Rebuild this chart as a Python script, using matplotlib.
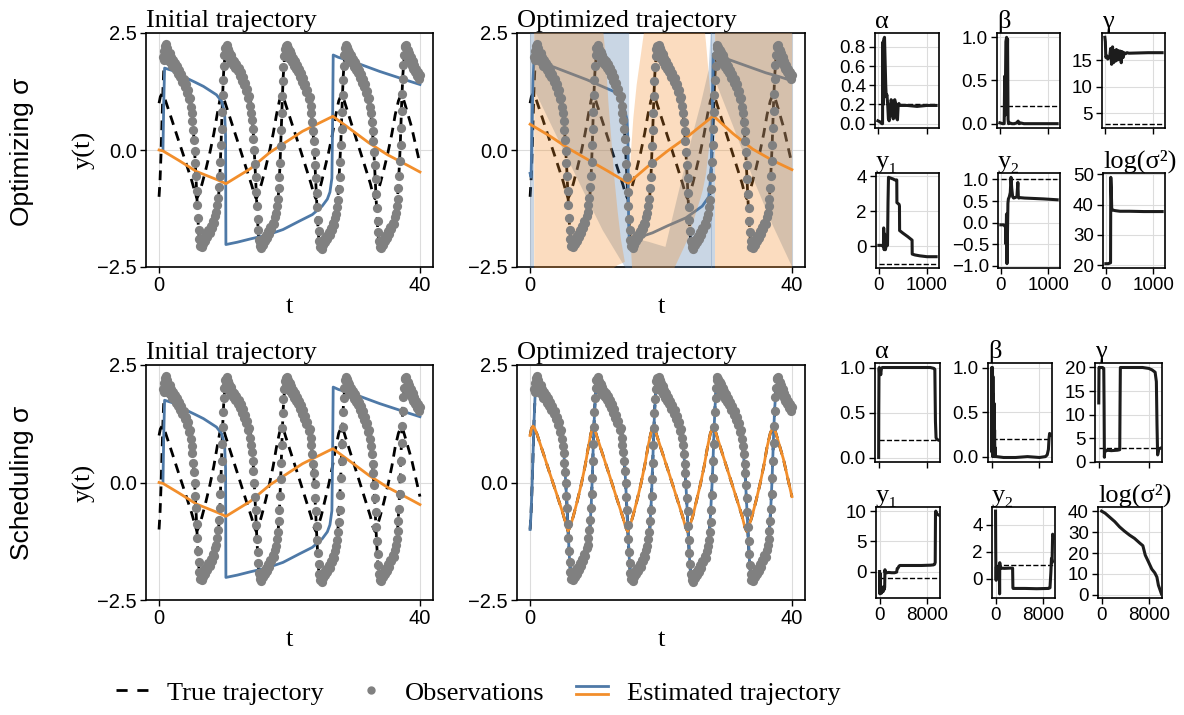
import matplotlib
matplotlib.use('Agg')
import matplotlib.pyplot as plt
from matplotlib.lines import Line2D
from matplotlib.legend_handler import HandlerBase

SANS = 'Liberation Sans'
SERIF = ['Liberation Serif', 'DejaVu Serif']
plt.rcParams['font.family'] = SANS
BLUE = '#4e79a7'
ORANGE = '#f28e2b'
GRAY = '#808080'
DASH = (3.5, 2.5)

# ---------------- trajectories ----------------
# true V (dashed, mostly hidden under the observations)
v_t = [0.0, 0.15, 0.3, 0.45, 0.6, 0.75, 0.9, 1.1, 1.6, 2.3, 3.0, 3.7, 4.3, 4.8, 5.1, 5.3, 5.45, 5.6, 5.75, 5.9, 6.05, 6.2, 6.4, 6.8, 7.4, 8.0, 8.5, 8.9, 9.15, 9.35, 9.5, 9.62, 9.75, 9.9, 10.1, 10.4,
       11.0, 11.7, 12.4, 13.1, 13.7, 14.1, 14.35, 14.55, 14.7, 14.85, 15.0, 15.15, 15.3, 15.5, 15.9, 16.5, 17.1, 17.6, 18.0, 18.3, 18.5, 18.65, 18.78, 18.9, 19.05, 19.25, 19.55,
       20.2, 20.9, 21.6, 22.3, 22.9, 23.3, 23.55, 23.75, 23.9, 24.05, 24.2, 24.35, 24.5, 24.7, 25.1, 25.7, 26.3, 26.8, 27.2, 27.45, 27.65, 27.85, 27.98, 28.1, 28.25, 28.45, 28.7,
       29.3, 30.0, 30.7, 31.4, 32.0, 32.4, 32.7, 32.9, 33.05, 33.2, 33.35, 33.5, 33.65, 33.85, 34.3, 34.9, 35.5, 36.0, 36.35, 36.6, 36.8, 36.98, 37.1, 37.22, 37.38, 37.58, 37.85,
       38.5, 39.2, 40.0]
v_y = [-1.0, -0.65, -0.1, 0.6, 1.3, 1.8, 2.05, 2.12, 2.0, 1.85, 1.68, 1.5, 1.3, 1.05, 0.72, 0.35, -0.02, -0.4, -0.85, -1.3, -1.7, -1.95, -2.02, -1.96, -1.83, -1.68, -1.52, -1.3, -0.95, -0.45, 0.1, 0.65, 1.18, 1.65, 2.0, 2.12,
       2.0, 1.85, 1.68, 1.5, 1.28, 0.98, 0.6, 0.12, -0.3, -0.75, -1.2, -1.6, -1.92, -2.03, -1.98, -1.86, -1.7, -1.55, -1.32, -0.95, -0.45, 0.1, 0.6, 1.1, 1.6, 2.0, 2.12,
       2.0, 1.85, 1.66, 1.48, 1.22, 0.9, 0.5, 0.1, -0.3, -0.75, -1.2, -1.6, -1.9, -2.03, -1.98, -1.86, -1.7, -1.55, -1.32, -0.95, -0.45, 0.1, 0.6, 1.1, 1.6, 2.0, 2.12,
       2.0, 1.85, 1.66, 1.46, 1.2, 0.85, 0.45, 0.05, -0.35, -0.8, -1.25, -1.62, -1.92, -2.03, -1.97, -1.85, -1.68, -1.52, -1.28, -0.95, -0.45, 0.1, 0.6, 1.1, 1.6, 2.0, 2.12,
       1.98, 1.8, 1.6]
# true R (dashed zig-zag)
r_t = [0.0, 0.2, 0.45, 0.7, 1.0, 2.0, 3.0, 4.0, 5.0, 5.5, 5.8, 6.1, 6.6, 7.2, 7.8, 8.4, 8.9, 9.3, 9.6, 9.9, 10.2, 11.2, 12.2, 13.2, 14.2, 14.6, 14.9, 15.2, 15.7, 16.3, 16.9, 17.5, 18.0, 18.45, 18.8, 19.1, 19.4,
       20.4, 21.4, 22.4, 23.3, 23.75, 24.05, 24.35, 24.85, 25.4, 26.0, 26.6, 27.1, 27.55, 27.95, 28.25, 28.55, 29.5, 30.5, 31.5, 32.4, 32.8, 33.1, 33.4, 33.9, 34.5, 35.1, 35.7, 36.2, 36.7, 37.1, 37.4, 37.7, 38.7, 40.0]
r_y = [1.0, 1.14, 1.2, 1.15, 1.05, 0.63, 0.2, -0.22, -0.65, -0.9, -1.03, -0.95, -0.72, -0.4, -0.05, 0.35, 0.75, 1.05, 1.18, 1.12, 0.98, 0.55, 0.12, -0.32, -0.75, -0.95, -1.04, -0.95, -0.72, -0.4, -0.05, 0.35, 0.75, 1.05, 1.18, 1.12, 0.98,
       0.55, 0.12, -0.32, -0.72, -0.95, -1.04, -0.95, -0.72, -0.4, -0.05, 0.35, 0.75, 1.05, 1.18, 1.12, 0.98, 0.56, 0.12, -0.32, -0.72, -0.95, -1.04, -0.95, -0.72, -0.4, -0.05, 0.35, 0.75, 1.05, 1.18, 1.12, 0.98, 0.5, -0.3]

# observations
obs_t_c1 = [0.62, 0.70, 0.78, 0.86, 0.95, 1.02, 1.10, 1.20, 1.28, 1.38, 1.50, 1.62, 1.75, 1.88, 2.00, 2.15, 2.30, 2.45, 2.62, 2.78, 2.95, 3.10, 3.25, 3.42, 3.58, 3.75, 3.92, 4.10, 4.25, 4.42, 4.58, 4.72, 4.85, 5.00, 5.12, 5.22, 5.35, 5.45, 5.55, 5.65, 5.75, 5.85, 5.95, 6.05, 6.15, 6.28, 6.40, 6.52, 6.65, 6.80, 6.95, 7.10, 7.25, 7.40, 7.58, 7.75, 7.92, 8.10, 8.28, 8.45, 8.62, 8.78, 8.92, 9.05, 9.18, 9.30, 9.40, 9.50, 9.58, 9.66, 9.74, 9.82, 9.92, 10.02, 10.12]
obs_y_c1 = [1.98, 2.12, 1.92, 2.22, 2.05, 2.26, 2.10, 1.96, 2.18, 2.02, 1.90, 2.08, 1.88, 1.98, 1.80, 1.92, 1.78, 1.86, 1.70, 1.80, 1.62, 1.72, 1.55, 1.62, 1.45, 1.52, 1.35, 1.40, 1.22, 1.28, 1.08, 1.12, 0.92, 0.78, 0.62, 0.42, 0.22, -0.02, -0.28, -0.55, -0.88, -1.18, -1.45, -1.70, -1.90, -2.05, -1.95, -2.08, -1.92, -2.00, -1.85, -1.94, -1.80, -1.86, -1.72, -1.78, -1.62, -1.66, -1.52, -1.56, -1.40, -1.32, -1.18, -1.02, -0.80, -0.55, -0.25, 0.10, 0.45, 0.82, 1.18, 1.50, 1.80, 2.02, 2.18]
obs_t_c2 = [10.22, 10.30, 10.38, 10.47, 10.55, 10.66, 10.76, 10.88, 11.00, 11.13, 11.25, 11.40, 11.55, 11.70, 11.87, 12.03, 12.20, 12.35, 12.50, 12.67, 12.83, 13.00, 13.17, 13.35, 13.50, 13.67, 13.83, 13.97, 14.10, 14.25, 14.37, 14.47, 14.60, 14.70, 14.80, 14.90, 15.00, 15.10, 15.20, 15.30, 15.42, 15.55, 15.68, 15.80, 15.95, 16.10, 16.25, 16.40, 16.55, 16.72, 16.90, 17.05, 17.22, 17.40, 17.58, 17.75, 17.92, 18.05, 18.18, 18.32, 18.45, 18.55, 18.65, 18.75, 18.83, 18.92, 19.00, 19.08, 19.18, 19.28]
obs_y_c2 = [2.20, 2.08, 2.24, 2.00, 2.15, 1.98, 2.10, 1.92, 2.04, 1.86, 1.95, 1.82, 1.90, 1.76, 1.84, 1.68, 1.76, 1.58, 1.66, 1.48, 1.56, 1.38, 1.44, 1.26, 1.30, 1.12, 1.15, 0.95, 0.80, 0.64, 0.45, 0.24, 0.00, -0.30, -0.58, -0.90, -1.20, -1.48, -1.72, -1.92, -2.06, -1.96, -2.10, -1.94, -2.02, -1.88, -1.95, -1.82, -1.88, -1.74, -1.80, -1.64, -1.68, -1.55, -1.58, -1.44, -1.35, -1.20, -1.05, -0.82, -0.58, -0.28, 0.08, 0.42, 0.80, 1.15, 1.48, 1.78, 2.00, 2.16]
obs_t_c3 = [19.45, 19.53, 19.62, 19.72, 19.80, 19.90, 20.00, 20.12, 20.25, 20.38, 20.50, 20.65, 20.80, 20.95, 21.12, 21.28, 21.45, 21.60, 21.75, 21.92, 22.08, 22.25, 22.42, 22.60, 22.75, 22.92, 23.08, 23.22, 23.35, 23.50, 23.62, 23.72, 23.85, 23.95, 24.05, 24.15, 24.25, 24.35, 24.45, 24.55, 24.68, 24.80, 24.93, 25.05, 25.20, 25.35, 25.50, 25.65, 25.80, 25.98, 26.15, 26.30, 26.48, 26.65, 26.83, 27.00, 27.17, 27.30, 27.43, 27.57, 27.70, 27.80, 27.90, 28.00, 28.08, 28.17, 28.25, 28.33, 28.43, 28.53]
obs_y_c3 = [2.22, 2.05, 2.25, 2.02, 2.18, 1.96, 2.12, 1.94, 2.06, 1.88, 1.96, 1.80, 1.90, 1.74, 1.82, 1.66, 1.74, 1.56, 1.64, 1.46, 1.54, 1.36, 1.42, 1.24, 1.28, 1.10, 1.14, 0.94, 0.80, 0.60, 0.40, 0.20, -0.04, -0.32, -0.60, -0.92, -1.22, -1.50, -1.74, -1.94, -2.08, -1.98, -2.12, -1.96, -2.04, -1.90, -1.97, -1.84, -1.90, -1.76, -1.82, -1.66, -1.70, -1.56, -1.60, -1.46, -1.36, -1.22, -1.06, -0.84, -0.58, -0.26, 0.10, 0.45, 0.82, 1.18, 1.50, 1.80, 2.02, 2.18]
obs_t_c4 = [28.62, 28.70, 28.78, 28.88, 28.98, 29.08, 29.18, 29.30, 29.43, 29.55, 29.68, 29.82, 29.98, 30.13, 30.28, 30.45, 30.60, 30.77, 30.92, 31.08, 31.25, 31.40, 31.57, 31.75, 31.90, 32.07, 32.23, 32.37, 32.50, 32.65, 32.77, 32.87, 33.00, 33.10, 33.20, 33.30, 33.40, 33.50, 33.60, 33.70, 33.82, 33.95, 34.08, 34.20, 34.35, 34.50, 34.65, 34.80, 34.95, 35.12, 35.30, 35.45, 35.62, 35.80, 35.97, 36.15, 36.30, 36.43, 36.57, 36.70, 36.83, 36.93, 37.03, 37.12, 37.20, 37.28, 37.36, 37.45, 37.55, 37.65]
obs_y_c4 = [2.24, 2.04, 2.20, 1.98, 2.14, 1.95, 2.10, 1.90, 2.02, 1.86, 1.94, 1.78, 1.88, 1.72, 1.80, 1.64, 1.72, 1.54, 1.62, 1.44, 1.52, 1.34, 1.40, 1.22, 1.26, 1.08, 1.12, 0.92, 0.78, 0.60, 0.40, 0.20, -0.05, -0.32, -0.62, -0.94, -1.24, -1.52, -1.76, -1.95, -2.08, -1.96, -2.10, -1.94, -2.02, -1.88, -1.95, -1.82, -1.88, -1.74, -1.80, -1.64, -1.68, -1.55, -1.58, -1.44, -1.34, -1.20, -1.04, -0.82, -0.56, -0.24, 0.10, 0.46, 0.84, 1.20, 1.52, 1.82, 2.02, 2.20]
obs_t_c5 = [37.75, 37.83, 37.92, 38.02, 38.12, 38.22, 38.33, 38.45, 38.58, 38.72, 38.86, 39.00, 39.15, 39.30, 39.45, 39.60, 39.75, 39.90, 40.00]
obs_y_c5 = [2.22, 2.04, 2.24, 2.00, 2.14, 1.94, 2.08, 1.88, 1.98, 1.80, 1.90, 1.74, 1.82, 1.66, 1.74, 1.58, 1.66, 1.52, 1.60]
obs_t = obs_t_c1 + obs_t_c2 + obs_t_c3 + obs_t_c4 + obs_t_c5
obs_y = obs_y_c1 + obs_y_c2 + obs_y_c3 + obs_y_c4 + obs_y_c5

# initial estimate (both rows)
init_v_t = [0.6, 0.72, 0.85, 2.0, 3.7, 5.5, 6.8, 8.8, 9.6, 10.05, 10.2, 10.25, 12.0, 14.0, 16.5, 19.0, 21.5, 23.5, 25.0, 25.8, 26.2, 26.5, 26.6, 26.7, 27.5, 29.7, 33.8, 38.4, 40.0]
init_v_y = [0.0, 1.0, 1.75, 1.7, 1.57, 1.45, 1.36, 1.18, 1.04, 0.8, 0.3, -2.02, -1.97, -1.9, -1.82, -1.7, -1.52, -1.38, -1.2, -1.05, -0.9, -0.6, 0.5, 2.03, 1.98, 1.89, 1.68, 1.47, 1.4]
init_r_t = [0.0, 0.6, 3.0, 5.75, 9.0, 10.25, 14.0, 17.0, 22.0, 26.65, 29.0, 32.2, 35.0, 38.4, 40.0]
init_r_y = [0.0, -0.02, -0.22, -0.46, -0.64, -0.72, -0.4, -0.05, 0.4, 0.72, 0.48, 0.15, -0.1, -0.35, -0.47]

# optimized estimate, optimizing sigma
opt_v_t = [0.0, 0.15, 0.3, 0.45, 0.6, 2.0, 4.6, 8.7, 12.8, 13.8, 14.3, 14.8, 14.95, 15.05, 15.15, 17.0, 18.7, 21.0, 23.8, 26.3, 27.3, 27.65, 27.85, 28.0, 30.0, 32.0, 34.0, 36.0, 38.0, 40.0]
opt_v_y = [-0.5, -0.58, 0.5, 1.5, 1.93, 1.86, 1.72, 1.5, 1.25, 1.12, 0.95, 0.65, 0.2, -1.5, -1.92, -1.85, -1.77, -1.62, -1.45, -1.2, -1.0, -0.5, 1.0, 2.05, 1.95, 1.85, 1.75, 1.65, 1.57, 1.48]
opt_r_t = [0.0, 3.0, 5.9, 9.0, 12.0, 15.0, 18.0, 21.0, 24.0, 28.0, 31.0, 34.0, 37.0, 40.0]
opt_r_y = [0.55, 0.3, 0.03, -0.22, -0.46, -0.71, -0.35, -0.02, 0.28, 0.73, 0.35, 0.02, -0.22, -0.42]

# uncertainty bands (optimizing sigma)
bband_t = [[0.0, 0.55], [0.55, 4.0, 8.0, 11.0, 13.8, 14.9, 15.05], [15.05, 18.0, 20.6, 22.5, 24.5, 26.0, 27.2, 27.7], [27.7, 28.2], [28.2, 31.0, 34.0, 37.0, 40.0]]
bband_lo = [[-3, -3], [1.3, 0.3, -0.85, -1.7, -2.35, -2.6, -3.0], [-3, -3, -3, -3, -3, -3, -3, -3], [-3, -3], [1.5, 0.5, -0.6, -1.6, -2.5]]
bband_hi = [[3, 3], [3, 3, 3, 3, 3, 3, 3], [-1.85, -1.95, -2.06, -0.95, 0.2, 1.0, 1.72, 3.0], [3, 3], [3, 3, 3, 3, 3]]
oband_t = [[0.55, 10.8, 11.4, 11.9, 12.3, 12.8, 13.3, 13.8, 14.4], [15.1, 15.3, 15.7, 16.2, 16.9, 17.8, 21.0, 22.0, 24.0, 26.0, 26.3, 26.8, 27.3, 27.7], [28.2, 40.0]]
oband_lo = [[-3, -3, -3, -3, -2.6, -2.5, -2.45, -2.42, -2.38], [-0.7, -2.0, -3, -3, -3, -3, -3, -2.5, -1.9, -1.0, -0.85, -0.5, 0.1, 0.6], [-3, -3]]
oband_hi = [[3, 3, 2.1, 1.0, 0.3, -0.6, -1.3, -1.9, -2.38], [-0.7, -0.1, 0.7, 1.4, 2.1, 3.0, 3.0, 3.0, 3.0, 3.0, 3.0, 2.3, 1.5, 0.8], [3, 3]]

# ---------------- parameter traces ----------------
top_traces = {
    'α': ([0, 40, 80, 95, 100, 110, 120, 135, 150, 160, 170, 185, 200, 215, 230, 250, 270, 290, 300, 315, 330, 345, 360, 380, 400, 415, 430, 450, 500, 600, 800, 1000, 1190],
          [0.03, 0.02, 0.0, 0.0, 0.85, 0.2, 0.88, 0.9, 0.6, 0.4, 0.28, 0.3, 0.2, 0.05, 0.03, 0.15, 0.25, 0.22, 0.08, 0.05, 0.24, 0.25, 0.22, 0.06, 0.04, 0.2, 0.21, 0.19, 0.19, 0.19, 0.18, 0.19, 0.19]),
    'β': ([0, 60, 90, 100, 110, 125, 140, 150, 160, 170, 180, 200, 250, 300, 350, 380, 400, 420, 500, 700, 900, 1190],
          [0.01, 0.0, 0.0, 0.55, 0.1, 0.95, 1.0, 0.6, 0.98, 0.05, 0.0, 0.01, 0.0, 0.0, 0.01, 0.03, 0.0, 0.01, 0.0, 0.0, 0.0, 0.0]),
    'γ': ([0, 10, 20, 40, 60, 100, 120, 140, 160, 180, 200, 220, 240, 260, 280, 300, 320, 340, 360, 380, 400, 430, 460, 500, 700, 900, 1190],
          [19.3, 18.5, 15.5, 15.8, 15.2, 15.6, 17.2, 14.2, 17.5, 14.5, 16.8, 14.8, 17.0, 15.0, 16.8, 15.2, 16.7, 14.5, 16.6, 15.5, 16.4, 16.2, 16.4, 16.3, 16.35, 16.4, 16.4]),
    'y₁': ([0, 50, 95, 100, 110, 120, 135, 150, 180, 190, 200, 250, 300, 330, 372, 375, 420, 428, 431, 500, 600, 690, 693, 750, 850, 1000, 1190],
           [0.05, 0.05, 0.0, 1.05, -0.2, 0.7, -0.2, 0.0, 0.05, 2.5, 3.95, 3.9, 3.85, 3.8, 3.8, 2.5, 2.4, 2.3, 0.9, 0.75, 0.55, 0.35, -0.45, -0.5, -0.55, -0.6, -0.6]),
    'y₂': ([0, 60, 100, 110, 120, 130, 140, 150, 160, 180, 200, 215, 230, 250, 270, 300, 340, 360, 370, 380, 400, 500, 700, 900, 1190],
           [-0.05, -0.05, -0.1, -0.5, 0.2, -0.95, -0.3, 0.45, 0.55, 0.6, 0.7, 1.05, 0.8, 0.6, 0.57, 0.58, 0.6, 0.93, 0.6, 0.57, 0.58, 0.57, 0.56, 0.55, 0.53]),
    'log(σ²)': ([0, 50, 100, 105, 115, 125, 140, 200, 300, 500, 800, 1190],
                [20.5, 20.5, 20.8, 49.0, 45.0, 38.5, 38.2, 38.0, 37.8, 37.8, 37.7, 37.7]),
}
bot_traces = {
    'α': ([0, 20, 60, 100, 150, 250, 350, 450, 600, 1000, 3000, 6000, 8500, 9100, 9250, 9350, 9450, 9600, 10000],
          [0.0, 0.5, 0.98, 1.0, 0.93, 0.96, 0.92, 0.99, 1.0, 1.0, 1.0, 1.0, 1.0, 0.99, 0.98, 0.4, 0.22, 0.2, 0.19]),
    'β': ([0, 30, 60, 90, 120, 150, 180, 220, 260, 300, 350, 400, 450, 500, 550, 600, 650, 700, 800, 2000, 4000, 6000, 8000, 9000, 9300, 9500, 9600, 9700, 10000],
          [0.5, 1.0, 0.05, 0.95, 0.1, 1.0, 0.0, 0.9, 0.2, 0.7, 0.05, 0.6, 0.0, 0.3, 0.0, 0.1, 0.0, 0.0, 0.0, -0.01, -0.01, 0.0, -0.01, 0.0, 0.02, 0.08, 0.2, 0.26, 0.24]),
    'γ': ([0, 40, 80, 200, 400, 600, 800, 850, 900, 950, 1100, 1300, 2000, 3000, 3350, 3400, 3450, 3500, 5000, 7000, 8000, 8500, 9000, 9200, 9300, 9400, 9600, 10000],
          [12.5, 20.0, 19.9, 20.0, 20.0, 20.0, 19.8, 12.0, 1.0, 2.5, 2.3, 2.5, 2.4, 2.5, 2.6, 12.0, 20.0, 20.0, 20.0, 20.0, 19.8, 19.5, 19.0, 17.0, 8.0, 1.5, 2.8, 3.0]),
    'y₁': ([0, 40, 80, 120, 200, 280, 360, 440, 520, 600, 680, 760, 850, 900, 950, 1200, 1500, 2000, 2500, 2850, 2950, 3100, 3250, 3400, 5000, 7000, 8500, 9000, 9200, 9300, 9350, 9400, 9600, 10000],
           [0.0, -3.7, -0.3, -3.5, -2.8, -3.6, -2.6, -3.4, -2.9, -3.3, -2.5, -3.0, -2.6, 0.3, -0.2, -0.2, -0.15, -0.2, -0.2, -0.1, 0.5, 0.6, 0.9, 1.0, 1.0, 1.0, 1.05, 1.1, 1.2, 1.5, 9.8, 10.0, 9.5, 9.3]),
    'y₂': ([0, 30, 60, 100, 150, 200, 300, 500, 650, 690, 720, 760, 850, 1500, 2500, 2900, 2950, 3000, 5000, 7000, 9000, 9250, 9400, 9500, 9600, 9700, 10000],
           [5.0, 2.3, 0.8, -0.1, 0.9, 0.8, 0.75, 0.8, 0.8, -1.1, 1.2, 0.8, 0.8, 0.78, 0.8, 0.8, -0.65, -0.7, -0.7, -0.72, -0.7, -0.65, 0.5, 1.5, 1.2, 3.3, 3.0]),
    'log(σ²)': ([0, 600, 1400, 2200, 3000, 3800, 4700, 5500, 6400, 6900, 7300, 7800, 8400, 8900, 9250, 9500, 9700, 10000],
                [40, 39, 37, 35, 32.5, 30.5, 28.5, 27, 24.7, 23.5, 19, 16, 12.3, 10.5, 8.5, 4.6, 3.0, 0.5]),
}
true_vals = {'α': 0.2, 'β': 0.2, 'γ': 3.0, 'y₁': -1.0, 'y₂': 1.0, 'log(σ²)': None}
top_yticks = {'α': [0.0, 0.2, 0.4, 0.6, 0.8], 'β': [0.0, 0.5, 1.0], 'γ': [5, 10, 15],
              'y₁': [0, 2, 4], 'y₂': [-1.0, -0.5, 0.0, 0.5, 1.0], 'log(σ²)': [20, 30, 40, 50]}
bot_yticks = {'α': [0.0, 0.5, 1.0], 'β': [0.0, 0.5, 1.0], 'γ': [0, 5, 10, 15, 20],
              'y₁': [0, 5, 10], 'y₂': [0, 2, 4], 'log(σ²)': [0, 10, 20, 30, 40]}

W, H = 1184, 715
fig = plt.figure(figsize=(W / 100, H / 100), dpi=100)


def rect(l, t, r, b):
    return [l / W, 1 - b / H, (r - l) / W, (b - t) / H]


def style(ax, fs):
    for s in ax.spines.values():
        s.set_linewidth(1.2)
    ax.tick_params(labelsize=fs, width=1.0, length=4, pad=2.5)
    ax.grid(True, color='#dcdcdc', linewidth=0.8)
    ax.set_axisbelow(True)


def big_panel(box, title, ylabel):
    ax = fig.add_axes(rect(*box))
    style(ax, 14.5)
    ax.set_xlim(-2, 42)
    ax.set_ylim(-2.5, 2.5)
    ax.set_xticks([0, 40])
    ax.set_yticks([-2.5, 0.0, 2.5])
    ax.set_title(title, loc='left', fontsize=19, family=SERIF, pad=4)
    ax.set_xlabel('t', fontsize=19, family=SERIF, labelpad=1)
    if ylabel:
        ax.set_ylabel('y(t)', fontsize=19, family=SERIF, labelpad=1)
    ax.plot(v_t, v_y, color='k', lw=2, dashes=DASH, zorder=1)
    ax.plot(r_t, r_y, color='k', lw=2, dashes=DASH, zorder=1)
    ax.scatter(obs_t, obs_y, s=44, color=GRAY, zorder=6, linewidths=0)
    return ax


# row 1
ax1 = big_panel((146, 33, 433, 267), 'Initial trajectory', True)
ax1.plot(init_v_t, init_v_y, color=BLUE, lw=2, zorder=3)
ax1.plot(init_r_t, init_r_y, color=ORANGE, lw=2, zorder=3)

ax2 = big_panel((517, 33, 805, 267), 'Optimized trajectory', False)
ax2.plot(opt_v_t, opt_v_y, color=BLUE, lw=2, zorder=2)
for t, lo, hi in zip(bband_t, bband_lo, bband_hi):
    ax2.fill_between(t, lo, hi, color=BLUE, alpha=0.3, linewidth=0, zorder=3)
for t, lo, hi in zip(oband_t, oband_lo, oband_hi):
    ax2.fill_between(t, lo, hi, color=ORANGE, alpha=0.3, linewidth=0, zorder=3)
ax2.plot(opt_r_t, opt_r_y, color=ORANGE, lw=2, zorder=4)

# row 2
ax3 = big_panel((146, 365, 433, 600), 'Initial trajectory', True)
ax3.plot(init_v_t, init_v_y, color=BLUE, lw=2, zorder=3)
ax3.plot(init_r_t, init_r_y, color=ORANGE, lw=2, zorder=3)

ax4 = big_panel((517, 365, 805, 600), 'Optimized trajectory', False)
ax4.plot(v_t, v_y, color=BLUE, lw=2, zorder=3)
ax4.plot(r_t, r_y, color=ORANGE, lw=2, zorder=4)


def small_panel(box, name, it, vals, yticks, xticks, xlabels, xlim=None):
    ax = fig.add_axes(rect(*box))
    style(ax, 13.5)
    ax.plot(it, vals, color='#1c1c1c', lw=2.2, zorder=3)
    tv = true_vals[name]
    if tv is not None:
        ax.plot([it[0], it[-1]], [tv, tv], '--', color='k', lw=1.0, zorder=2)
    ax.set_yticks(yticks)
    ax.set_xticks(xticks)
    if xlim is not None:
        ax.set_xlim(*xlim)
    ax.tick_params(labelbottom=xlabels)
    ax.set_title(name, loc='left', fontsize=19, family=SERIF, pad=3)
    return ax


names = ['α', 'β', 'γ', 'y₁', 'y₂', 'log(σ²)']
top_boxes = [(875, 33, 939, 128), (997, 33, 1060, 128), (1102, 33, 1165, 128),
             (876, 173, 939, 268), (998, 173, 1060, 268), (1103, 173, 1165, 268)]
bot_boxes = [(875, 363, 940, 462), (988, 363, 1052, 462), (1095, 363, 1162, 462),
             (876, 507, 940, 598), (992, 507, 1055, 598), (1098, 507, 1162, 598)]
for i, (n, b) in enumerate(zip(names, top_boxes)):
    it, vals = top_traces[n]
    small_panel(b, n, it, vals, top_yticks[n], [0, 1000], i >= 3)
for i, (n, b) in enumerate(zip(names, bot_boxes)):
    it, vals = bot_traces[n]
    small_panel(b, n, it, vals, bot_yticks[n], [0, 8000], i >= 3, xlim=(-600, 10100))

# row labels
fig.text(0.019, 0.787, 'Optimizing σ', rotation=90, ha='center', va='center', fontsize=19, family=SANS)
fig.text(0.019, 0.325, 'Scheduling σ', rotation=90, ha='center', va='center', fontsize=19, family=SANS)


class StackedLines(HandlerBase):
    def create_artists(self, legend, orig_handle, xdescent, ydescent, width, height, fontsize, trans):
        arts = []
        for i, h in enumerate(orig_handle):
            y = height / 2 + (0.22 - 0.44 * i) * height
            ln = Line2D([-xdescent, width - xdescent], [y - ydescent, y - ydescent],
                        color=h.get_color(), lw=h.get_linewidth(), transform=trans)
            arts.append(ln)
        return arts


h_true = Line2D([], [], color='k', lw=2, dashes=(4, 3.5))
h_obs = Line2D([], [], color=GRAY, marker='o', ls='none', markersize=5)
h_est = (Line2D([], [], color=BLUE, lw=2), Line2D([], [], color=ORANGE, lw=2))
fig.legend([h_true, h_obs, h_est], ['True trajectory', 'Observations', 'Estimated trajectory'],
           handler_map={tuple: StackedLines()}, loc='center', bbox_to_anchor=(0.404, 0.031),
           ncol=3, frameon=False, prop={'family': SERIF, 'size': 19},
           handlelength=1.2, handletextpad=0.7, columnspacing=1.2)

fig.savefig('out.png', dpi=100)
